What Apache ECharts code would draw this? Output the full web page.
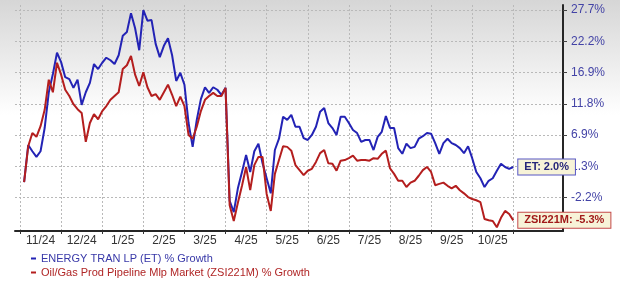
<!DOCTYPE html>
<html><head><meta charset="utf-8">
<script src="https://cdn.jsdelivr.net/npm/echarts@6/dist/echarts.min.js"></script>
<style>
html,body{margin:0;padding:0;background:#fff;}
#c{width:620px;height:282px;background:linear-gradient(#d6d6d6 0px,#ffffff 115px);}
</style></head><body><div id="c"></div>
<script>
// ---- data ----
const monthLabels = ['11/24','12/24','1/25','2/25','3/25','4/25','5/25','6/25','7/25','8/25','9/25','10/25'];
const yTickValues = [-2.2, 2.78, 7.77, 12.75, 17.73, 22.72, 27.7];
const yTickLabels = ['-2.2%','1.3%','6.9%','11.8%','16.9%','22.2%','27.7%'];
const seriesNames = ['ENERGY TRAN LP (ET) % Growth', 'Oil/Gas Prod Pipeline Mlp Market (ZSI221M) % Growth'];
const endLabels = ['ET: 2.0%', 'ZSI221M: -5.3%'];
// % growth, roughly every other trading day (10 samples per month)
const etGrowth = [0.3, 6.2, 5.2, 4.3, 5.2, 8.9, 14.6, 17.5, 20.9, 19.4,
  17.0, 16.7, 15.3, 16.6, 12.6, 14.6, 16.1, 19.1, 18.3, 19.3,
  20.1, 19.7, 19.1, 20.5, 23.6, 24.2, 27.2, 24.8, 21.3, 27.7,
  26.0, 26.1, 22.3, 20.2, 22.0, 23.2, 20.5, 16.4, 17.7, 15.8,
  9.7, 5.9, 10.2, 13.5, 15.4, 14.5, 15.4, 15.0, 14.2, 15.3,
  -2.7, -4.5, -0.7, 1.9, 4.6, 1.9, 5.2, 6.4, 3.3, 0.9,
  -1.5, 5.4, 7.2, 10.7, 10.2, 11.0, 9.1, 9.1, 7.3, 7.0,
  7.8, 9.1, 11.5, 12.1, 9.7, 8.9, 7.8, 10.7, 10.7, 9.7,
  8.6, 8.1, 6.7, 7.0, 7.0, 5.4, 7.5, 8.3, 10.8, 8.9,
  8.9, 5.7, 4.8, 6.4, 5.7, 5.9, 7.2, 7.6, 8.1, 8.0,
  6.5, 4.8, 6.5, 7.2, 6.5, 6.2, 5.7, 4.9, 6.0, 4.1,
  1.9, 0.9, -0.5, 0.5, 0.9, 2.1, 3.2, 2.7, 2.4, 2.7];
const zsiGrowth = [0.3, 6.0, 8.1, 7.5, 9.2, 11.8, 16.6, 14.6, 19.3, 17.4,
  15.0, 14.0, 12.7, 11.9, 11.3, 6.7, 9.7, 11.1, 10.3, 11.6,
  12.4, 13.4, 14.0, 14.6, 18.3, 18.9, 20.4, 17.4, 15.6, 17.8,
  15.4, 14.0, 14.3, 13.4, 14.6, 15.8, 14.2, 12.4, 13.9, 12.4,
  7.8, 7.2, 9.1, 11.6, 13.4, 14.0, 14.5, 14.0, 14.0, 15.3,
  -3.4, -5.9, -3.0, -0.3, 2.7, -1.0, 3.0, 4.3, 4.3, -1.6,
  -4.3, 1.6, 3.8, 6.0, 5.9, 5.3, 3.0, 2.2, 1.4, 2.1,
  2.4, 3.5, 4.9, 5.4, 3.3, 3.2, 2.1, 3.7, 3.8, 4.1,
  4.5, 3.7, 3.8, 3.8, 3.7, 4.1, 4.0, 4.8, 5.3, 2.5,
  1.6, 0.5, 0.5, -0.5, 0.2, 0.5, 1.3, 2.2, 2.7, 1.9,
  -0.2, 0.0, 0.2, -0.3, -0.7, -0.3, -1.0, -1.5, -2.1, -2.4,
  -2.6, -2.9, -5.6, -5.8, -5.9, -6.9, -5.4, -4.3, -4.8, -5.8];

// ---- chart ----
const samplesPerMonth = 10;
const nSlots = monthLabels.length * samplesPerMonth + 1;
const slots = Array.from({length: nSlots}, (_, i) => String(i));
const etData = [null].concat(etGrowth);
const zsiData = [null].concat(zsiGrowth);
const Y_MIN = -7.5, Y_MAX = 28.5;
const FONT = '"Liberation Sans", Arial, sans-serif';
const BLUE = '#2323b5', RED = '#b41e1e';

function tickLabel(v) {
  let best = 0;
  yTickValues.forEach((t, i) => { if (Math.abs(t - v) < Math.abs(yTickValues[best] - v)) best = i; });
  return yTickLabels[best];
}

const chart = echarts.init(document.getElementById('c'), null, {renderer: 'canvas'});
const hiddenY = (gi) => ({type: 'value', gridIndex: gi, min: Y_MIN, max: Y_MAX, show: false,
  axisLine: {show: false, onZero: false}, splitLine: {show: false}});

chart.setOption({
  backgroundColor: 'transparent',
  animation: false,
  textStyle: {fontFamily: FONT},
  grid: [
    {left: 15, right: 57, top: 5, bottom: 51},          // frame
    {left: 20, right: 106.7, top: 5, bottom: 51},       // data
    {left: 20, right: 106.7, top: 5, bottom: 51}        // month labels
  ],
  xAxis: [
    {type: 'value', gridIndex: 0, min: 0, max: 1,
      axisLine: {show: true, onZero: false, lineStyle: {color: '#262626', width: 2}},
      axisTick: {show: false}, axisLabel: {show: false}, splitLine: {show: false}},
    {type: 'category', gridIndex: 1, data: slots, boundaryGap: false,
      axisLine: {show: false, onZero: false}, axisTick: {show: false}, axisLabel: {show: false},
      splitLine: {show: true, interval: samplesPerMonth - 1,
        lineStyle: {color: '#b9b9b9', type: [2, 2], width: 1}}},
    {type: 'category', gridIndex: 2, data: monthLabels, boundaryGap: true,
      axisLine: {show: false, onZero: false},
      axisTick: {show: true, length: 3, lineStyle: {color: '#333'}},
      axisLabel: {color: '#333', fontSize: 12, margin: 4, fontFamily: FONT},
      splitLine: {show: false}}
  ],
  yAxis: [
    {type: 'value', gridIndex: 0, position: 'right', min: Y_MIN, max: Y_MAX,
      axisLine: {show: true, onZero: false, lineStyle: {color: '#262626', width: 2}},
      axisTick: {show: true, length: 4, customValues: yTickValues, lineStyle: {color: '#444'}},
      axisLabel: {show: true, customValues: yTickValues, formatter: tickLabel,
        color: '#4343a6', fontSize: 12, margin: 8, fontFamily: FONT},
      splitLine: {show: true, lineStyle: {color: '#b9b9b9', type: [2, 2], width: 1}}},
    hiddenY(1),
    hiddenY(2)
  ],
  legend: {
    orient: 'vertical', left: 31, top: 252, padding: 0, height: 30,
    itemWidth: 5, itemHeight: 2, itemGap: 1,
    icon: 'rect',
    textStyle: {fontSize: 11, fontFamily: FONT, lineHeight: 13},
    data: [
      {name: seriesNames[0], textStyle: {color: '#3838a8'}},
      {name: seriesNames[1], textStyle: {color: '#b02626'}}
    ]
  },
  series: [
    {name: seriesNames[0], type: 'line', xAxisIndex: 1, yAxisIndex: 1, data: etData,
      symbol: 'none', color: BLUE, lineStyle: {color: BLUE, width: 2}, connectNulls: false,
      endLabel: {show: true, formatter: () => endLabels[0], distance: 5,
        color: '#25257a', fontWeight: 'bold', fontSize: 11, fontFamily: FONT,
        backgroundColor: '#f7f3d8', borderColor: '#5656c4', borderWidth: 1,
        padding: [2, 6, 2, 6]}},
    {name: seriesNames[1], type: 'line', xAxisIndex: 1, yAxisIndex: 1, data: zsiData,
      symbol: 'none', color: RED, lineStyle: {color: RED, width: 2}, connectNulls: false,
      endLabel: {show: true, formatter: () => endLabels[1], distance: 5,
        color: '#a11a1a', fontWeight: 'bold', fontSize: 11, fontFamily: FONT,
        backgroundColor: '#f7f3d8', borderColor: '#c44a4a', borderWidth: 1,
        padding: [2, 6, 2, 6]}}
  ]
});
</script></body></html>
